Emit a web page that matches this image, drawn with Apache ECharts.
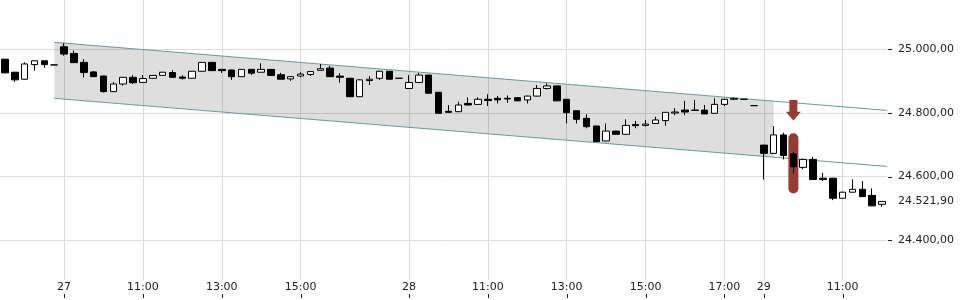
<!DOCTYPE html>
<html><head><meta charset="utf-8">
<script src="https://cdn.jsdelivr.net/npm/echarts@6/dist/echarts.min.js"></script>
<style>html,body{margin:0;padding:0;background:#fff}#c{width:960px;height:300px}</style>
</head><body><div id="c"></div>
<script>
const xIdx = [-6,-5,-4,-3,-2,-1,0,1,2,3,4,5,6,7,8,9,10,11,12,13,14,15,16,17,18,19,20,21,22,23,24,25,26,27,28,29,30,31,32,33,34,35,36,37,38,39,40,41,42,43,44,45,46,47,48,49,50,51,52,53,54,55,56,57,58,59,60,61,62,63,64,65,66,67,68,69,70,71,72,73,74,75,76,77,78,79,80,81,82,83];
const opens  = [24969,24928,24906,24952,24964,24951,25008,24987,24959,24929,24916,24867,24891,24912,24896,24909,24918,24927,24913,24909,24931,24959,24937,24935,24914,24937,24928,24937,24920,24907,24916,24921,24934,24941,24916,24909,24851,24902,24909,24931,24909,24877,24896,24919,24865,24805,24804,24830,24827,24843,24846,24846,24848,24841,24853,24877,24885,24843,24807,24783,24759,24712,24743,24733,24764,24761,24767,24776,24800,24809,24809,24809,24799,24827,24843,24843,24823,24699,24673,24731,24671,24629,24654,24595,24595,24532,24551,24560,24541,24513];
const closes = [24926,24904,24954,24964,24952,24951,24985,24958,24927,24914,24867,24891,24912,24895,24908,24918,24928,24912,24909,24931,24959,24933,24933,24914,24937,24925,24937,24918,24906,24914,24922,24930,24939,24914,24912,24851,24904,24906,24931,24906,24909,24896,24919,24862,24799,24802,24825,24825,24843,24839,24841,24844,24838,24853,24877,24885,24838,24801,24780,24757,24710,24743,24733,24761,24760,24765,24778,24802,24803,24803,24808,24797,24827,24843,24846,24843,24823,24673,24731,24666,24631,24654,24591,24591,24532,24551,24560,24537,24508,24521.9];
const lows   = [24925,24898,24905,24933,24942,24951,24980,24957,24911,24913,24864,24866,24886,24891,24895,24908,24917,24911,24905,24908,24930,24932,24926,24904,24913,24919,24927,24917,24905,24901,24912,24916,24933,24913,24895,24850,24850,24888,24904,24905,24909,24876,24895,24861,24798,24801,24803,24824,24826,24822,24830,24832,24837,24830,24852,24874,24837,24767,24767,24752,24709,24711,24732,24732,24752,24757,24766,24760,24793,24793,24807,24796,24798,24822,24840,24843,24823,24591,24672,24654,24610,24623,24590,24586,24526,24531,24550,24536,24507,24505];
const highs  = [24970,24929,24959,24964,24964,24951,25019,24996,24969,24932,24917,24897,24912,24919,24919,24919,24929,24935,24918,24932,24960,24960,24938,24936,24938,24938,24956,24938,24926,24915,24928,24931,24954,24948,24925,24910,24905,24916,24932,24932,24909,24919,24926,24920,24866,24825,24835,24849,24849,24859,24853,24855,24849,24854,24888,24893,24886,24844,24808,24796,24760,24767,24744,24780,24775,24778,24788,24803,24815,24838,24841,24825,24846,24844,24848,24843,24823,24700,24759,24738,24678,24657,24662,24612,24596,24552,24591,24586,24563,24522];
const tickIdx = [0,8,16,24,35,43,51,59,67,71,79];
const tickLabels = ['27','11:00','13:00','15:00','28','11:00','13:00','15:00','17:00','29','11:00'];
const yTicks = [24400,24600,24800,25000];
const lastPrice = 24521.9;
const channelTop = [[-1,25022],[83.5,24808]];
const channelBottom = [[-1,24846],[83.5,24632]];
const channelFill = [[-1,25022],[72,24837],[72,24661],[-1,24846]];
const signalArrow = [[74,24841,24804,24776]];
const signalBar = [[74,24736,24547]];

function fmt(v){
  const s = Number(v).toFixed(2);
  let parts = s.split('.');
  let i = parts[0].replace(/\B(?=(\d{3})+(?!\d))/g,'.');
  return i + ',' + parts[1];
}
const candleData = xIdx.map((x,k)=>[x,opens[k],closes[k],lows[k],highs[k]]);
const FONT = 'DejaVu Sans';
const RED = '#983b35';
const X_MIN = -6.5, X_MAX = 83.5, Y_MIN = 24275, Y_MAX = 25155;

const chart = echarts.init(document.getElementById('c'), null, {renderer:'canvas'});
chart.setOption({
  animation:false,
  backgroundColor:'#fff',
  grid:{left:0,right:73,top:0,bottom:20,containLabel:false,outerBoundsMode:'none'},
  xAxis:{
    type:'value', min:X_MIN, max:X_MAX, position:'bottom', offset:18,
    axisLine:{show:false},
    axisTick:{show:false,customValues:tickIdx},
    axisLabel:{inside:true,margin:5,customValues:tickIdx,color:'#222',fontSize:11,fontFamily:FONT,
      formatter:function(v){const k=tickIdx.indexOf(Math.round(v));return k>=0?tickLabels[k]:'';}},
    splitLine:{show:true,lineStyle:{color:'#dcdcdc',width:1}}
  },
  yAxis:{
    type:'value', position:'right', min:Y_MIN, max:Y_MAX, scale:true,
    axisLine:{show:false},
    axisTick:{show:false,customValues:yTicks},
    axisLabel:{margin:11,customValues:yTicks.concat([lastPrice]),color:'#222',fontSize:11,fontFamily:FONT,formatter:fmt},
    splitLine:{show:true,lineStyle:{color:'#dcdcdc',width:1}}
  },
  series:[
    {type:'custom',z:1,silent:true,data:[channelFill[0]],
     renderItem:function(params,api){
       return {type:'polygon',shape:{points:channelFill.map(p=>api.coord(p))},style:{fill:'rgba(0,0,0,0.13)'}};
     }},
    {type:'line',z:2,silent:true,data:channelTop,symbol:'none',lineStyle:{color:'#5f9ea0',width:1}},
    {type:'line',z:2,silent:true,data:channelBottom,symbol:'none',lineStyle:{color:'#5f9ea0',width:1}},
    {type:'custom',z:3,silent:true,data:signalBar,
     renderItem:function(params,api){
       const t=api.coord([api.value(0),api.value(1)]);
       const b=api.coord([api.value(0),api.value(2)]);
       return {type:'rect',shape:{x:t[0]-5,y:t[1],width:10,height:b[1]-t[1],r:5},style:{fill:RED}};
     }},
    {type:'candlestick',z:4,data:candleData,barWidth:7,
     itemStyle:{color:'#ffffff',color0:'#000000',borderColor:'#000000',borderColor0:'#000000',borderColorDoji:'#000000',borderWidth:1}},
    {type:'custom',z:5,silent:true,data:signalArrow,
     renderItem:function(params,api){
       const a=api.coord([api.value(0),api.value(1)]);
       const m=api.coord([api.value(0),api.value(2)]);
       const t=api.coord([api.value(0),api.value(3)]);
       const x=a[0];
       return {type:'polygon',shape:{points:[[x-4,a[1]],[x+4,a[1]],[x+4,m[1]],[x+7.5,m[1]],[x,t[1]],[x-7.5,m[1]],[x-4,m[1]]]},style:{fill:RED}};
     }},
    // y-axis tick marks
    {type:'custom',z:6,silent:true,clip:false,data:yTicks.map(v=>[X_MAX,v]),
     renderItem:function(params,api){
       const p=api.coord([api.value(0),api.value(1)]);
       const y=Math.round(p[1])+0.5;
       const x=params.coordSys.x+params.coordSys.width;
       return {type:'line',shape:{x1:x+1,y1:y,x2:x+5,y2:y},style:{stroke:'#222',lineWidth:1}};
     }},
    // x-axis tick marks
    {type:'custom',z:6,silent:true,clip:false,data:tickIdx.map(v=>[v,Y_MIN]),
     renderItem:function(params,api){
       const p=api.coord([api.value(0),api.value(1)]);
       const x=Math.round(p[0])+0.5;
       const y=params.coordSys.y+params.coordSys.height;
       return {type:'line',shape:{x1:x,y1:y+14,x2:x,y2:y+18},style:{stroke:'#222',lineWidth:1}};
     }}
  ]
});
</script></body></html>
